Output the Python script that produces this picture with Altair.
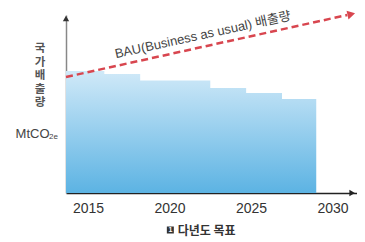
import altair as alt
import pandas as pd

# Target emission steps (arbitrary units)
step_years = [2013.65, 2016.0, 2018.2, 2022.5, 2024.7, 2026.9, 2029.0]
step_values = [122, 119, 112.5, 105, 100, 94, 94]

# BAU line
bau_years = [2013.65, 2030.9]
bau_values = [116, 178]
bau_arrow_year = [2031.15]
bau_arrow_value = [178.8]

tick_years = [2015, 2020, 2025, 2030]
x_domain = [2013.65, 2031.5]
y_domain = [0, 178]

bau_label = "BAU(Business as usual) 배출량"
y_title = "국\n가\n배\n출\n량"
unit_main = "MtCO"
unit_sub = "2e"
caption = "다년도 목표"
caption_num = "1"

xs = alt.Scale(domain=x_domain, nice=False, zero=False)
ys = alt.Scale(domain=y_domain, nice=False, zero=False)

steps = pd.DataFrame({"year": step_years, "v": step_values})
bau = pd.DataFrame({"year": bau_years, "v": bau_values})

area = alt.Chart(steps).mark_area(
    interpolate="step-after",
    color=alt.Gradient(
        gradient="linear",
        stops=[alt.GradientStop(color="#d0e9f8", offset=0),
               alt.GradientStop(color="#5cb3e3", offset=1)],
        x1=0, x2=0, y1=0, y2=1,
    ),
).encode(
    x=alt.X("year:Q", scale=xs, axis=alt.Axis(
        values=tick_years, format="d", title=None, grid=False, ticks=False,
        domainColor="#222222", domainWidth=1.5, labelFontSize=14,
        labelColor="#333333", labelPadding=8, labelFont="Liberation Sans",
        labelFlush=False)),
    y=alt.Y("v:Q", scale=ys, axis=alt.Axis(
        labels=False, ticks=False, grid=False, domainColor="#888888",
        domainWidth=1.5, title=None)),
)

line = alt.Chart(bau).mark_line(
    color="#d8464f", strokeDash=[7, 4], strokeWidth=2.5
).encode(x=alt.X("year:Q", scale=xs), y=alt.Y("v:Q", scale=ys))

bau_head = alt.Chart(pd.DataFrame({"year": bau_arrow_year, "v": bau_arrow_value})).mark_point(
    shape="triangle-right", angle=347.6, size=80, filled=True, color="#d8464f", opacity=1
).encode(x=alt.X("year:Q", scale=xs), y=alt.Y("v:Q", scale=ys))

y_head = alt.Chart(pd.DataFrame({"year": [x_domain[0]], "v": [174.5]})).mark_point(
    shape="triangle-up", size=40, filled=True, color="#333333", opacity=1
).encode(x=alt.X("year:Q", scale=xs), y=alt.Y("v:Q", scale=ys))

x_head = alt.Chart(pd.DataFrame({"year": [2031.2], "v": [0]})).mark_point(
    shape="triangle-right", size=40, filled=True, color="#222222", opacity=1
).encode(x=alt.X("year:Q", scale=xs), y=alt.Y("v:Q", scale=ys))

bau_text = alt.Chart(pd.DataFrame({"year": [2022.04], "v": [158], "t": [bau_label]})).mark_text(
    angle=347.6, fontSize=13, color="#444444",
    font="Liberation Sans, Noto Sans CJK KR"
).encode(x=alt.X("year:Q", scale=xs), y=alt.Y("v:Q", scale=ys), text="t:N")

ytitle = alt.Chart(pd.DataFrame({"year": [2012.06], "v": [150], "t": [y_title]})).mark_text(
    fontSize=11.5, color="#555555", fontWeight="bold", font="Noto Sans CJK KR",
    lineBreak="\n", lineHeight=13.5, baseline="top"
).encode(x=alt.X("year:Q", scale=xs), y=alt.Y("v:Q", scale=ys), text="t:N")

unit1 = alt.Chart(pd.DataFrame({"year": [2011.6], "v": [59], "t": [unit_main]})).mark_text(
    fontSize=13, color="#444444", font="Liberation Sans"
).encode(x=alt.X("year:Q", scale=xs), y=alt.Y("v:Q", scale=ys), text="t:N")

unit2 = alt.Chart(pd.DataFrame({"year": [2012.88], "v": [56.5], "t": [unit_sub]})).mark_text(
    fontSize=8, color="#444444", font="Liberation Sans"
).encode(x=alt.X("year:Q", scale=xs), y=alt.Y("v:Q", scale=ys), text="t:N")

box = alt.Chart(pd.DataFrame({"year": [2020.05], "v": [-37]})).mark_square(
    size=49, color="#333333", opacity=1
).encode(x=alt.X("year:Q", scale=xs), y=alt.Y("v:Q", scale=ys))

box_num = alt.Chart(pd.DataFrame({"year": [2020.05], "v": [-37], "t": [caption_num]})).mark_text(
    fontSize=7, color="white", fontWeight="bold", font="Liberation Sans"
).encode(x=alt.X("year:Q", scale=xs), y=alt.Y("v:Q", scale=ys), text="t:N")

cap = alt.Chart(pd.DataFrame({"year": [2020.5], "v": [-37.5], "t": [caption]})).mark_text(
    fontSize=12, color="#333333", fontWeight="bold", font="Noto Sans CJK KR", align="left"
).encode(x=alt.X("year:Q", scale=xs), y=alt.Y("v:Q", scale=ys), text="t:N")

chart = alt.layer(area, line, bau_head, y_head, x_head, bau_text, ytitle, unit1, unit2,
                  box, box_num, cap).properties(
    width=291, height=178,
    autosize=alt.AutoSizeParams(type="none"),
    padding={"left": 58, "top": 7, "right": 0, "bottom": 45},
    background="white",
).configure_view(stroke=None)

chart.save("out.html", embed_options={"renderer": "svg", "actions": False})
